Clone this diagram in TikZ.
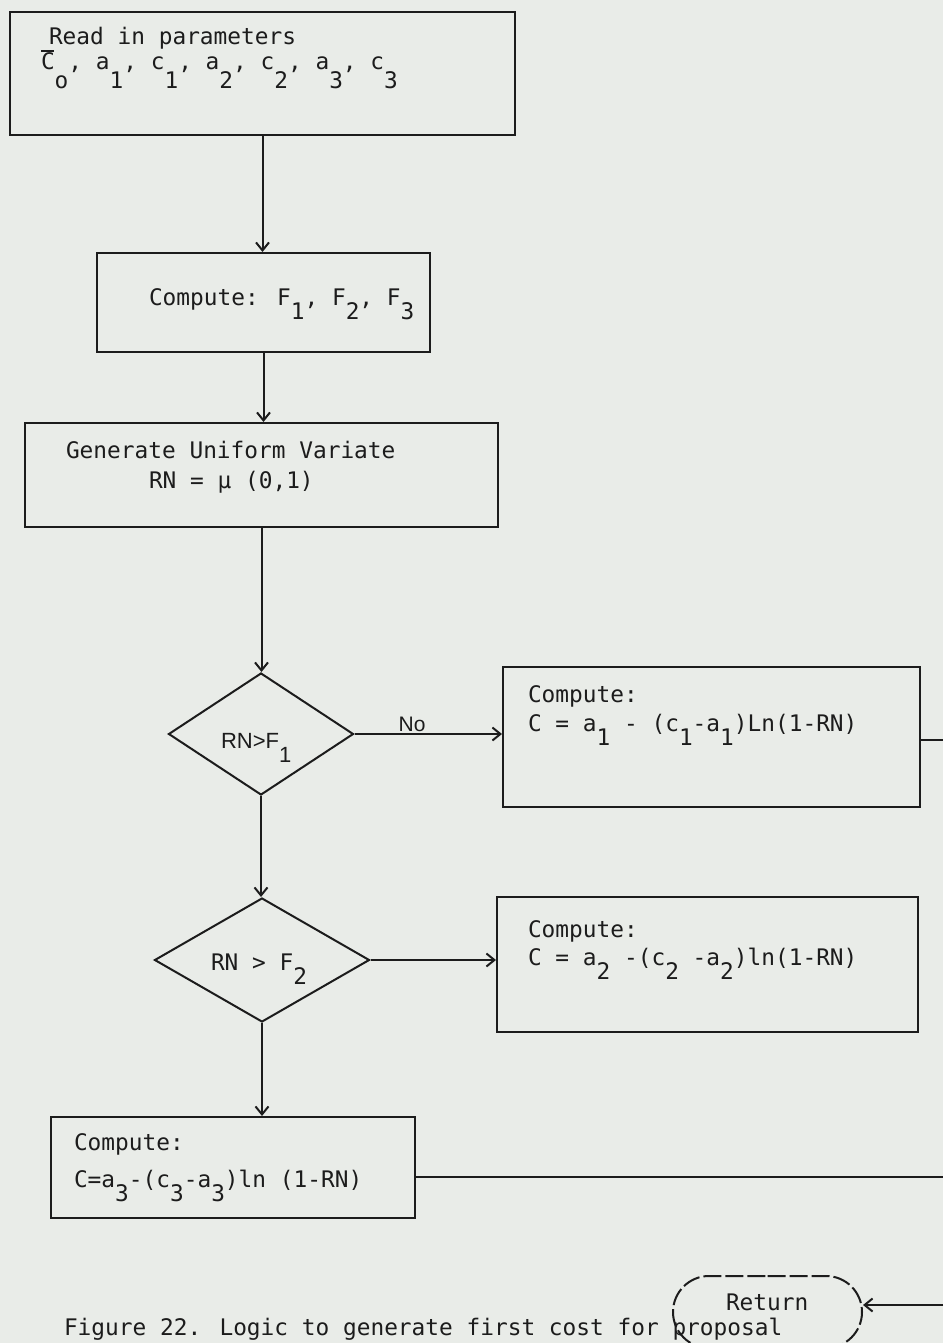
\documentclass[tikz,border=0pt]{standalone}
\usepackage{fontspec}
\setmainfont{DejaVu Sans Mono}
\newfontfamily\sansf{Liberation Sans}
\usetikzlibrary{shapes.geometric,shapes.misc,arrows.meta}
\definecolor{paper}{HTML}{E9ECE8}
\definecolor{ink}{HTML}{1C1C1C}
\newcommand\dn[2][0.65em]{\raisebox{-#1}{#2}}
\newcommand\cbar{\makebox[0pt][l]{\raisebox{0.8em}{\rule{0.55em}{1.3pt}}}C}
\begin{document}
\begin{tikzpicture}[x=1pt,y=-1pt,color=ink,line width=2pt,
  box/.style 2 args={draw,rectangle,inner sep=0pt,minimum width=#1,minimum height=#2},
  dec/.style 2 args={draw,diamond,inner sep=0pt,minimum width=#1,minimum height=#2},
  term/.style={draw,rounded rectangle,inner sep=0pt,minimum width=189pt,minimum height=72pt,dash pattern=on 18pt off 4pt},
  txt/.style={anchor=base west,inner sep=0pt,font=\fontsize{22.8}{27}\selectfont},
  stxt/.style={anchor=base west,inner sep=0pt,font=\sansf\fontsize{22}{26}\selectfont},
  arr/.style={-{Straight Barb[length=8pt,width=13pt]}}]
\useasboundingbox (0,0) rectangle (943,1343);
\clip (0,0) rectangle (943,1343);
\fill[paper] (0,0) rectangle (943,1343);

% boxes
\node[box={505pt}{123pt}] (b1) at (262.5,73.5) {};
\node[box={333pt}{99pt}]  (b2) at (263.5,302.5) {};
\node[box={473pt}{104pt}] (b3) at (261.5,475) {};
\node[dec={185pt}{122pt}] (d1) at (261,734) {};
\node[box={417pt}{140pt}] (b4) at (711.5,737) {};
\node[dec={215pt}{124pt}] (d2) at (262,960) {};
\node[box={421pt}{135pt}] (b5) at (707.5,964.5) {};
\node[box={364pt}{101pt}] (b6) at (233,1167.5) {};
\node[term] (ret) at (767.5,1312) {};

% texts
\node[txt] (t1a) at (48,45) {Read in parameters};
\node[txt] (t1b) at (40,70) {\cbar\dn[0.8em]{o}, a\dn[0.8em]{1}, c\dn[0.8em]{1}, a\dn[0.8em]{2}, c\dn[0.8em]{2}, a\dn[0.8em]{3}, c\dn[0.8em]{3}};
\node[txt] (t2) at (148,305) {Compute: F\dn{1}, F\dn{2}, F\dn{3}};
\node[txt] (t3a) at (65,458) {Generate Uniform Variate};
\node[txt] (t3b) at (148,488) {RN = μ (0,1)};
\node[stxt] (td1) at (220,748) {RN>F\dn{1}};
\node[txt] (t4a) at (527,702) {Compute:};
\node[txt] (t4b) at (527,731) {C = a\dn{1} - (c\dn{1}-a\dn{1})Ln(1-RN)};
\node[txt] (td2) at (210,970) {RN > F\dn{2}};
\node[txt] (t5a) at (527,937) {Compute:};
\node[txt] (t5b) at (527,965) {C = a\dn{2} -(c\dn{2} -a\dn{2})ln(1-RN)};
\node[txt] (t6a) at (73,1150) {Compute:};
\node[txt] (t6b) at (73,1187) {C=a\dn{3}-(c\dn{3}-a\dn{3})ln (1-RN)};
\node[txt] (tret) at (725,1310) {Return};
\node[txt] (cap) at (63,1335) {Figure 22.  Logic to generate first cost for proposal};

% connectors
\draw[arr] (b1.south) -- (b1.south |- b2.north);
\draw[arr] (b2.south) -- (b2.south |- b3.north);
\draw[arr] (b3.south) -- (b3.south |- d1.north);
\draw[arr] (d1.east) -- node[pos=0.39,anchor=base,yshift=3pt,inner sep=0pt,font=\sansf\fontsize{21}{25}\selectfont] (no) {No} (d1.east -| b4.west);
\draw[arr] (d1.south) -- (d1.south |- d2.north);
\draw[arr] (d2.east) -- (d2.east -| b5.west);
\draw[arr] (d2.south) -- (d2.south |- b6.north);
\coordinate (o1) at (943,740);
\draw (b4.east |- o1) -- (o1);
\coordinate (o2) at (943,1177);
\draw (b6.east |- o2) -- (o2);
\coordinate (rin) at (943,1305);
\draw[arr] (rin) -- (ret.east |- rin);
\end{tikzpicture}
\end{document}
